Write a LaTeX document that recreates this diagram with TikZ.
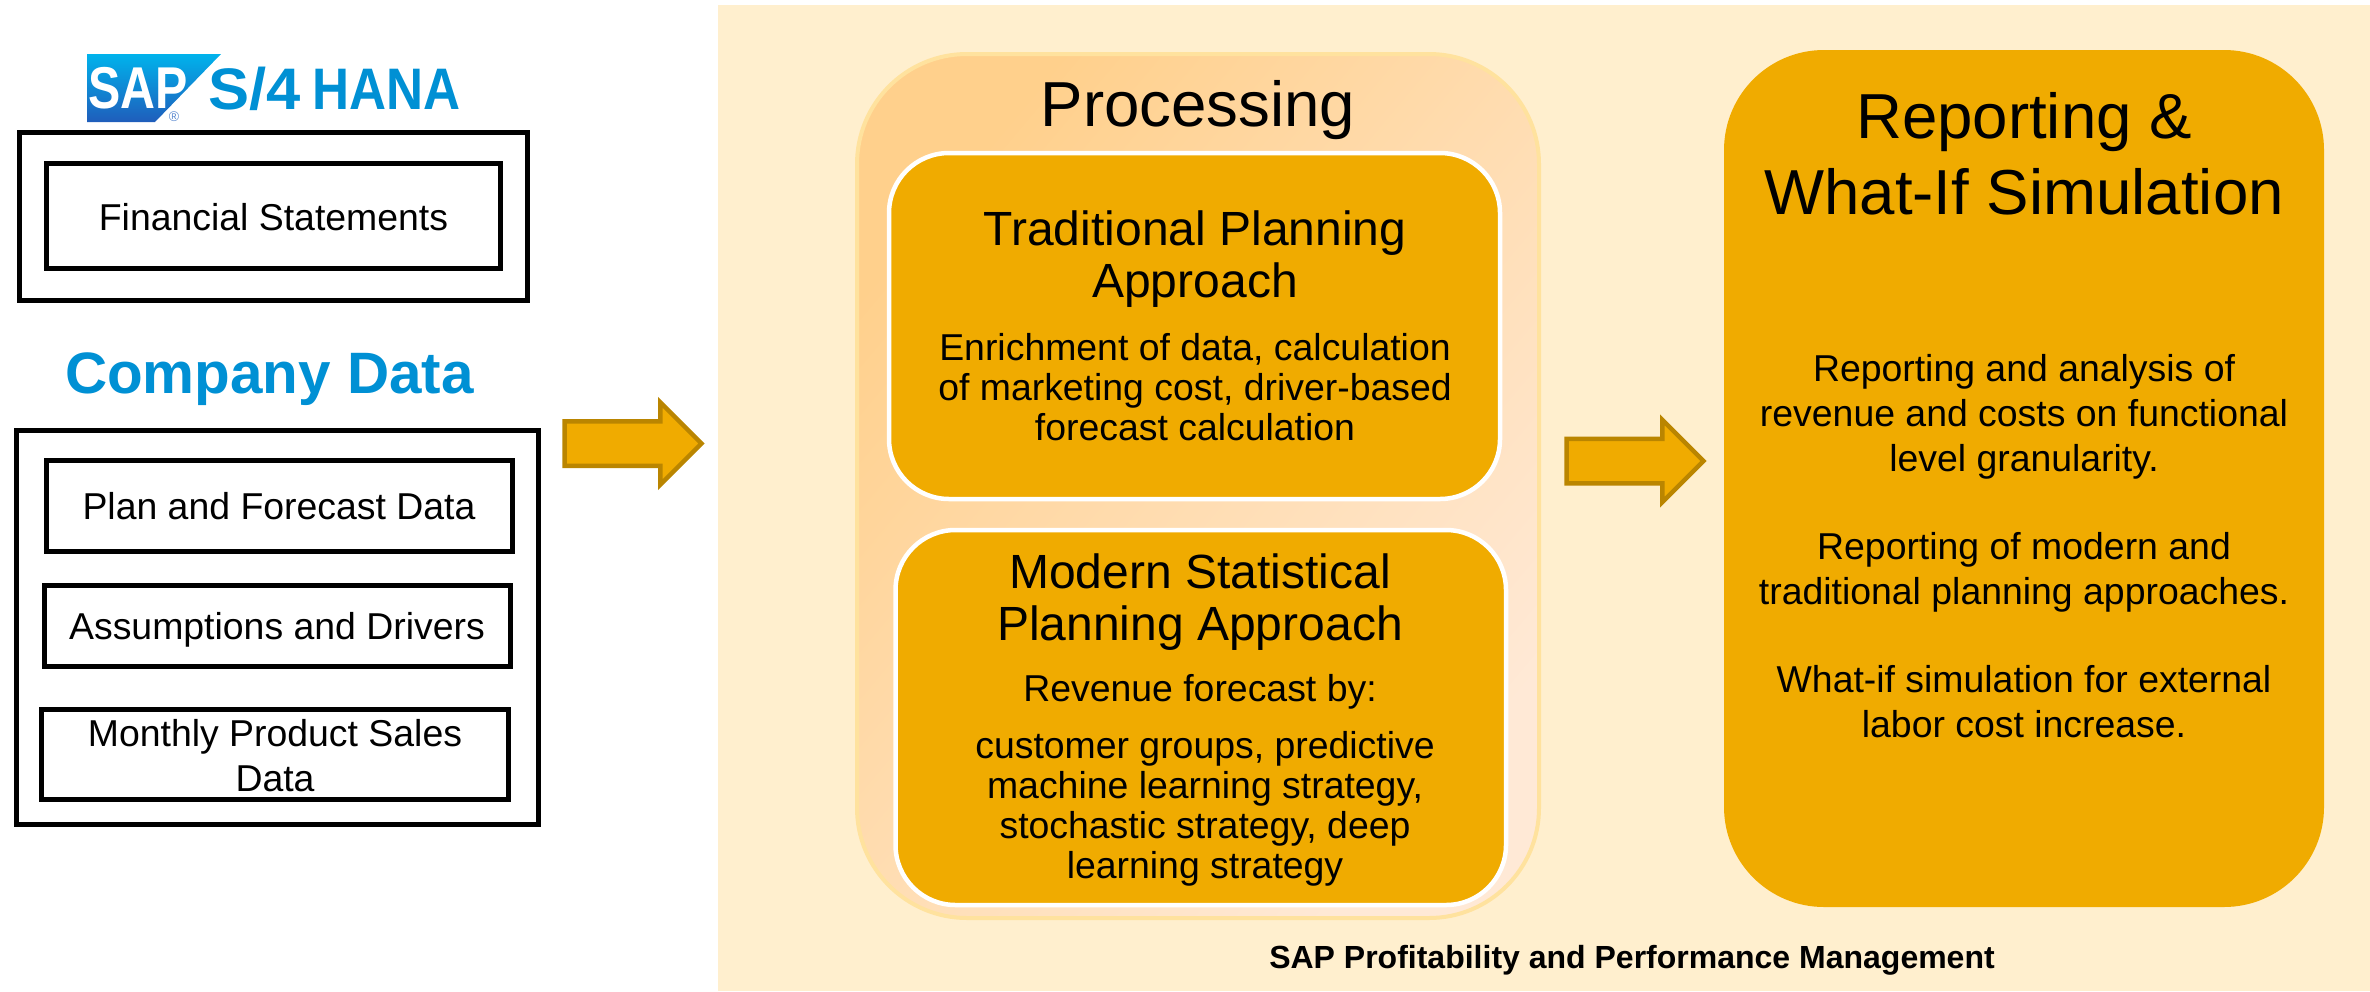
\documentclass[tikz,border=0pt]{standalone}
\usepackage{fontspec}
\setmainfont{Liberation Sans}
\usetikzlibrary{shapes.arrows}
\definecolor{gold}{HTML}{F0AB00}
\definecolor{panel}{HTML}{FFEFCE}
\definecolor{arrowedge}{HTML}{BA8500}
\definecolor{rim}{HTML}{FFE29E}
\definecolor{sapblue}{HTML}{0090D4}
\definecolor{logotop}{HTML}{00B3EC}
\definecolor{logobot}{HTML}{1F5DBB}
\definecolor{regblue}{HTML}{5C8AD0}
\definecolor{proca}{HTML}{FFD08C}
\definecolor{procb}{HTML}{FFE9D6}
\newcommand\fs[2]{\fontsize{#1}{#2}\selectfont}
% name, style, x1, y1, x2, y2 (in reference pixels)
\newcommand\boxnode[6]{\node[#2,minimum width={(#5-#3)*0.5pt},minimum height={(#6-#4)*0.5pt}] (#1) at ({(#3+#5)/2},{(#4+#6)/2}) {};}
\tikzset{
  blackbox/.style={draw=black,line width=2.5pt,fill=white,inner sep=0pt,outer sep=0pt},
  goldinner/.style={draw=white,line width=2.25pt,fill=gold,rounded corners=30pt,inner sep=0pt,outer sep=0pt},
  blockarrow/.style={single arrow,draw=arrowedge,fill=gold,line width=2.25pt,anchor=tail,inner sep=10pt,outer sep=0pt,
    minimum height=68.5pt,single arrow head extend=9.5pt,single arrow tip angle=90,miter limit=10},
  body/.style={anchor=base,align=center,inner sep=0pt,font=\fs{18.7}{20}},
  leftlabel/.style={anchor=base,align=center,inner sep=0pt,font=\fs{18.7}{22.5}},
  titlea/.style={anchor=base,align=center,inner sep=0pt,font=\fs{24}{25.7}},
  repbody/.style={anchor=base,align=center,inner sep=0pt,font=\fs{18.7}{22.5}},
}
\begin{document}
\begin{tikzpicture}[x=0.5pt,y=-0.5pt]
\useasboundingbox (0,0) rectangle (2370,991);
% panel
\fill[panel] (718,5) rectangle (2370,991);
% logo
\shade[top color=logotop,bottom color=logobot] (87,54) -- (221,54) -- (155,122) -- (87,122) -- cycle;
\node[anchor=base west,inner sep=0pt,text=white,font=\fs{29.5}{29.5}\bfseries] (saplogo) at (88,108) {\scalebox{0.82}[1]{SAP}};
\node[anchor=center,inner sep=0pt,text=regblue,font=\fs{7}{7}] (regmark) at (174,117) {®};
\node[anchor=base west,inner sep=0pt,text=sapblue,font=\fs{29.3}{29.3}\bfseries] (s4) at (208,109) {\scalebox{1.05}[1]{S/4}};
\node[anchor=base west,inner sep=0pt,text=sapblue,font=\fs{29.3}{29.3}\bfseries] (hana) at (312,109) {\scalebox{0.875}[1]{HANA}};
% left boxes
\boxnode{fsouter}{blackbox}{19.5}{132.5}{527.5}{300.5}
\boxnode{fsinner}{blackbox}{46.5}{163.5}{500.5}{268.5}
\node[leftlabel] (fstext) at (273.5,230.5) {Financial Statements};
\node[anchor=base,inner sep=0pt,text=sapblue,font=\fs{29.2}{29}\bfseries] (company) at (269.5,393) {Company Data};
\boxnode{cdouter}{blackbox}{16.5}{430.5}{538.5}{824.5}
\boxnode{plan}{blackbox}{46}{460.5}{512.5}{551.5}
\boxnode{assump}{blackbox}{44}{585.5}{510}{666.5}
\boxnode{monthly}{blackbox}{41.5}{709.5}{508.5}{799.5}
\node[leftlabel] (plantext) at (279,519) {Plan and Forecast Data};
\node[leftlabel] (assumptext) at (277,639) {Assumptions and Drivers};
\node[leftlabel] (monthlytext) at (275,791) {Monthly Product Sales\\Data};
% arrows
\node[blockarrow] (arrowa) at (564.5,443.5) {};
\node[blockarrow] (arrowb) at (1566.5,461) {};
% processing
\node[draw=rim,line width=2pt,rounded corners=55pt,inner sep=0pt,outer sep=0pt,
  top color=proca,bottom color=procb,shading angle=50,
  minimum width=341pt,minimum height=432pt] (proc) at (1198,486) {};
\node[anchor=base,inner sep=0pt,font=\fs{31.8}{31.5}] (proctitle) at (1198,126) {Processing};
\boxnode{trad}{goldinner}{889}{153}{1500}{499}
\boxnode{modern}{goldinner}{895.5}{530}{1506}{905}
\node[titlea] (tradtitle) at (1195,297) {Traditional Planning\\Approach};
\node[body] (tradbody) at (1195,440.5) {Enrichment of data, calculation\\of marketing cost, driver-based\\forecast calculation};
\node[titlea] (modtitle) at (1200,640) {Modern Statistical\\Planning Approach};
\node[body] (modintro) at (1200,701.5) {Revenue forecast by:};
\node[body] (modbody) at (1205,878) {customer groups, predictive\\machine learning strategy,\\stochastic strategy, deep\\learning strategy};
% reporting
\node[fill=gold,rounded corners=50pt,inner sep=0pt,outer sep=0pt,minimum width=300pt,minimum height=428.5pt] (report) at (2024,478.5) {};
\node[anchor=base,align=center,inner sep=0pt,font=\fs{31.8}{38}] (reptitle) at (2024,214) {Reporting \&\\What-If Simulation};
\node[repbody] (repa) at (2024,471.5) {Reporting and analysis of\\revenue and costs on functional\\level granularity.};
\node[repbody] (repb) at (2024,604.5) {Reporting of modern and\\traditional planning approaches.};
\node[repbody] (repc) at (2024,737.5) {What-if simulation for external\\labor cost increase.};
% caption
\node[anchor=base,inner sep=0pt,font=\fs{16}{16}\bfseries] (caption) at (1632,968) {SAP Profitability and Performance Management};
\end{tikzpicture}
\end{document}
